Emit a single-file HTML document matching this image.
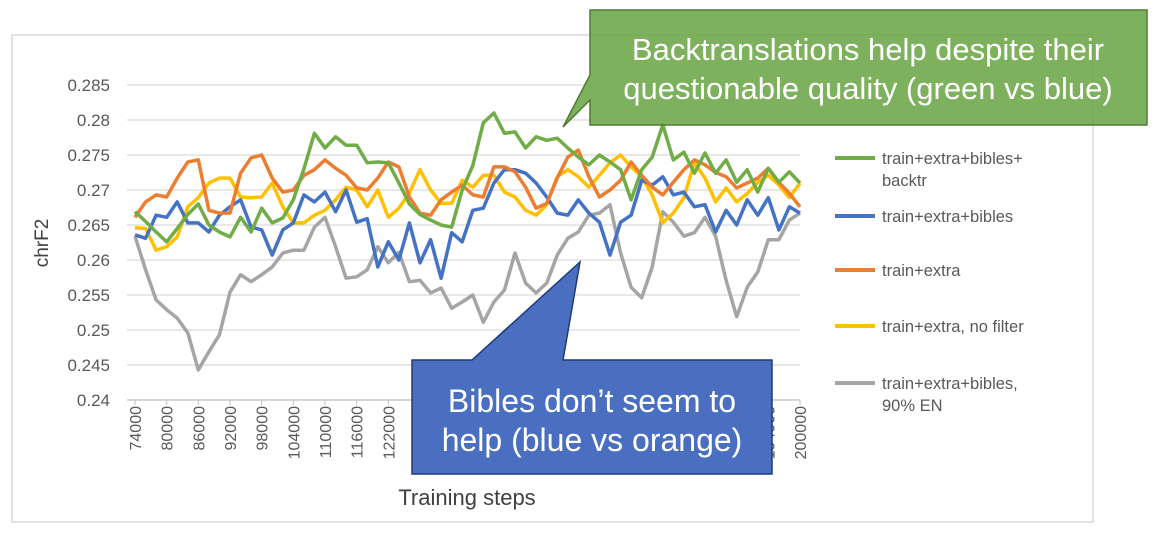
<!DOCTYPE html>
<html><head><meta charset="utf-8"><style>
body{margin:0;background:#fff;}
svg{display:block;font-family:"Liberation Sans",sans-serif;}
</style></head><body>
<svg id="chart" width="1158" height="540" viewBox="0 0 1158 540" xmlns="http://www.w3.org/2000/svg">
<rect x="12" y="35" width="1081" height="487" fill="#fff" stroke="#d9d9d9" stroke-width="1.5"/>
<g id="grid"></g><g id="yticks"></g><g id="xticks"></g><g id="lines"></g><g id="legend"></g>
<text x="0" y="0" transform="translate(48,243) rotate(-90)" text-anchor="middle" font-size="19" fill="#404040">chrF2</text>
<text x="467" y="505" text-anchor="middle" font-size="22" fill="#404040">Training steps</text>
<g>
<path d="M590,10 H1147 V125 H590 V100 L563,127 L590,75 Z" fill="#70a84b" fill-opacity="0.9" stroke="#4e7a32" stroke-width="1.5"/>
<text x="868" y="60" text-anchor="middle" font-size="31" fill="#fff">Backtranslations help despite their</text>
<text x="868" y="99" text-anchor="middle" font-size="31" fill="#fff">questionable quality (green vs blue)</text>
</g>
<g>
<path d="M412,360 H472 L580,262 L563,360 H772 V474 H412 Z" fill="#4a6fc0" stroke="#1f3a78" stroke-width="1.5"/>
<text x="592" y="412" text-anchor="middle" font-size="32" fill="#fff">Bibles don’t seem to</text>
<text x="592" y="451" text-anchor="middle" font-size="32" fill="#fff">help (blue vs orange)</text>
</g>
</svg>
<script>
const steps=[];for(let s=74000;s<=200000;s+=2000)steps.push(s);
const yTicks=[0.24,0.245,0.25,0.255,0.26,0.265,0.27,0.275,0.28,0.285];
const seriesNames=["train+extra+bibles+ backtr","train+extra+bibles","train+extra","train+extra, no filter","train+extra+bibles, 90% EN"];
const green=[.2669,.2655,.2640,.2626,.2645,.2665,.268,.265,.264,.2633,.2661,.264,.2674,.2653,.266,.2686,.273,.2781,.276,.2776,.2764,.2764,.2739,.274,.2739,.271,.268,.2665,.2657,.265,.2647,.270,.2735,.2796,.281,.2781,.2783,.276,.2776,.2771,.2774,.276,.2747,.2736,.275,.274,.2729,.2686,.2729,.2747,.2793,.2743,.2754,.2724,.2753,.2724,.2743,.2711,.2729,.2697,.2731,.2711,.2726,.271];
const blue=[.2636,.2631,.2664,.2661,.2683,.2653,.2653,.264,.2664,.2676,.2686,.2647,.2643,.2607,.2643,.2653,.2693,.2683,.2697,.2669,.27,.2654,.2659,.259,.2626,.26,.2653,.2596,.2629,.2574,.2639,.2626,.2671,.2674,.271,.2729,.2729,.2724,.271,.269,.2667,.2664,.2686,.2667,.2654,.2607,.2654,.2664,.2714,.2707,.2719,.2693,.2697,.2676,.2679,.264,.2671,.265,.2686,.2664,.2689,.2643,.2676,.2667];
const orange=[.2661,.2683,.2693,.269,.2717,.274,.2743,.2671,.2667,.2667,.2724,.2746,.275,.2717,.2697,.27,.2721,.2729,.2743,.2731,.2721,.2703,.27,.2717,.274,.2733,.269,.2667,.2664,.2686,.2697,.2707,.2693,.269,.2733,.2733,.2726,.2704,.2674,.2681,.2717,.2747,.2757,.2719,.269,.27,.2714,.274,.2721,.2704,.2693,.2711,.2729,.2743,.2736,.2725,.2719,.2703,.271,.2717,.2731,.2711,.2695,.2676];
const yellow=[.2646,.2645,.2614,.2619,.2633,.2676,.2689,.271,.2717,.2717,.269,.2689,.269,.271,.2676,.2653,.2653,.2664,.2671,.2686,.2704,.27,.2676,.27,.2661,.2674,.2696,.2729,.27,.2681,.2681,.2714,.2704,.2721,.2721,.2697,.269,.2671,.2664,.2679,.2719,.2729,.2719,.2704,.2721,.2739,.275,.2733,.2719,.2693,.2653,.2667,.2689,.2739,.2717,.2683,.2703,.2683,.2695,.2711,.2721,.2707,.2689,.271];
const gray=[.2634,.2586,.2543,.2529,.2517,.2496,.2443,.2469,.2493,.2554,.2579,.2569,.2579,.259,.261,.2614,.2614,.2647,.2661,.2619,.2574,.2576,.2586,.2619,.2596,.2611,.2569,.2571,.2553,.256,.2531,.254,.255,.2511,.254,.2557,.261,.2567,.2553,.2567,.2607,.2631,.264,.2664,.2667,.2679,.261,.2561,.2546,.259,.2669,.2654,.2634,.2639,.2661,.2634,.2571,.2519,.2561,.2583,.2629,.2629,.2657,.2667];
const NS="http://www.w3.org/2000/svg";
const X0=135,X1=800,Y0=400,Y1=85,xmin=74000,xmax=200000,ymin=0.24,ymax=0.285;
const xs=v=>X0+(v-xmin)/(xmax-xmin)*(X1-X0);
const ys=v=>Y0-(v-ymin)/(ymax-ymin)*(Y0-Y1);
function mk(t,a,p){const e=document.createElementNS(NS,t);for(const k in a)e.setAttribute(k,a[k]);p.appendChild(e);return e;}
const grid=document.getElementById('grid'),yt=document.getElementById('yticks'),xt=document.getElementById('xticks');
yTicks.forEach(v=>{
 const l=mk('line',{x1:X0-8,x2:X1,y1:ys(v),y2:ys(v),stroke:v===ymin?'#bfbfbf':'#d9d9d9','stroke-width':1.2},grid);
 
 
 const t=mk('text',{x:110,y:ys(v)+6,'text-anchor':'end','font-size':17,fill:'#595959'},yt);
 t.textContent=String(v);
 
 
});
steps.forEach((s,i)=>{
 if(i%3!==0)return;
 const tk=mk('line',{x1:xs(s),x2:xs(s),y1:Y0,y2:Y0+5,stroke:'#bfbfbf'},xt);
 
 
 const t=mk('text',{x:0,y:0,transform:`translate(${xs(s)+6},${Y0+6}) rotate(-90)`,'text-anchor':'end','font-size':16,fill:'#595959'},xt);
 t.textContent=String(s);
 
 
});
const data=[green,blue,orange,yellow,gray],colors=['#70ad47','#4472c4','#ed7d31','#ffc000','#a5a5a5'];
const lines=document.getElementById('lines');
[4,3,1,2,0].forEach(k=>{
 const d=data[k].map((v,i)=>(i?'L':'M')+xs(steps[i]).toFixed(1)+','+ys(v).toFixed(1)).join(' ');
 const p=mk('path',{d:d,fill:'none',stroke:colors[k],'stroke-width':3.5,'stroke-linejoin':'round'},lines);
 
 
});
const lg=document.getElementById('legend');
const ly=[158,216,270,326,383];
seriesNames.forEach((n,k)=>{
 const g=mk('g',{},lg);
 
 
 mk('line',{x1:835,x2:875,y1:ly[k],y2:ly[k],stroke:colors[k],'stroke-width':4},g);
 const parts=k===0?['train+extra+bibles+','backtr']:k===4?['train+extra+bibles,','90% EN']:[n];
 parts.forEach((s,j)=>{const t=mk('text',{x:882,y:ly[k]+6+j*22,'font-size':16.5,fill:'#595959'},g);t.textContent=s;});
});
</script>
</body></html>
